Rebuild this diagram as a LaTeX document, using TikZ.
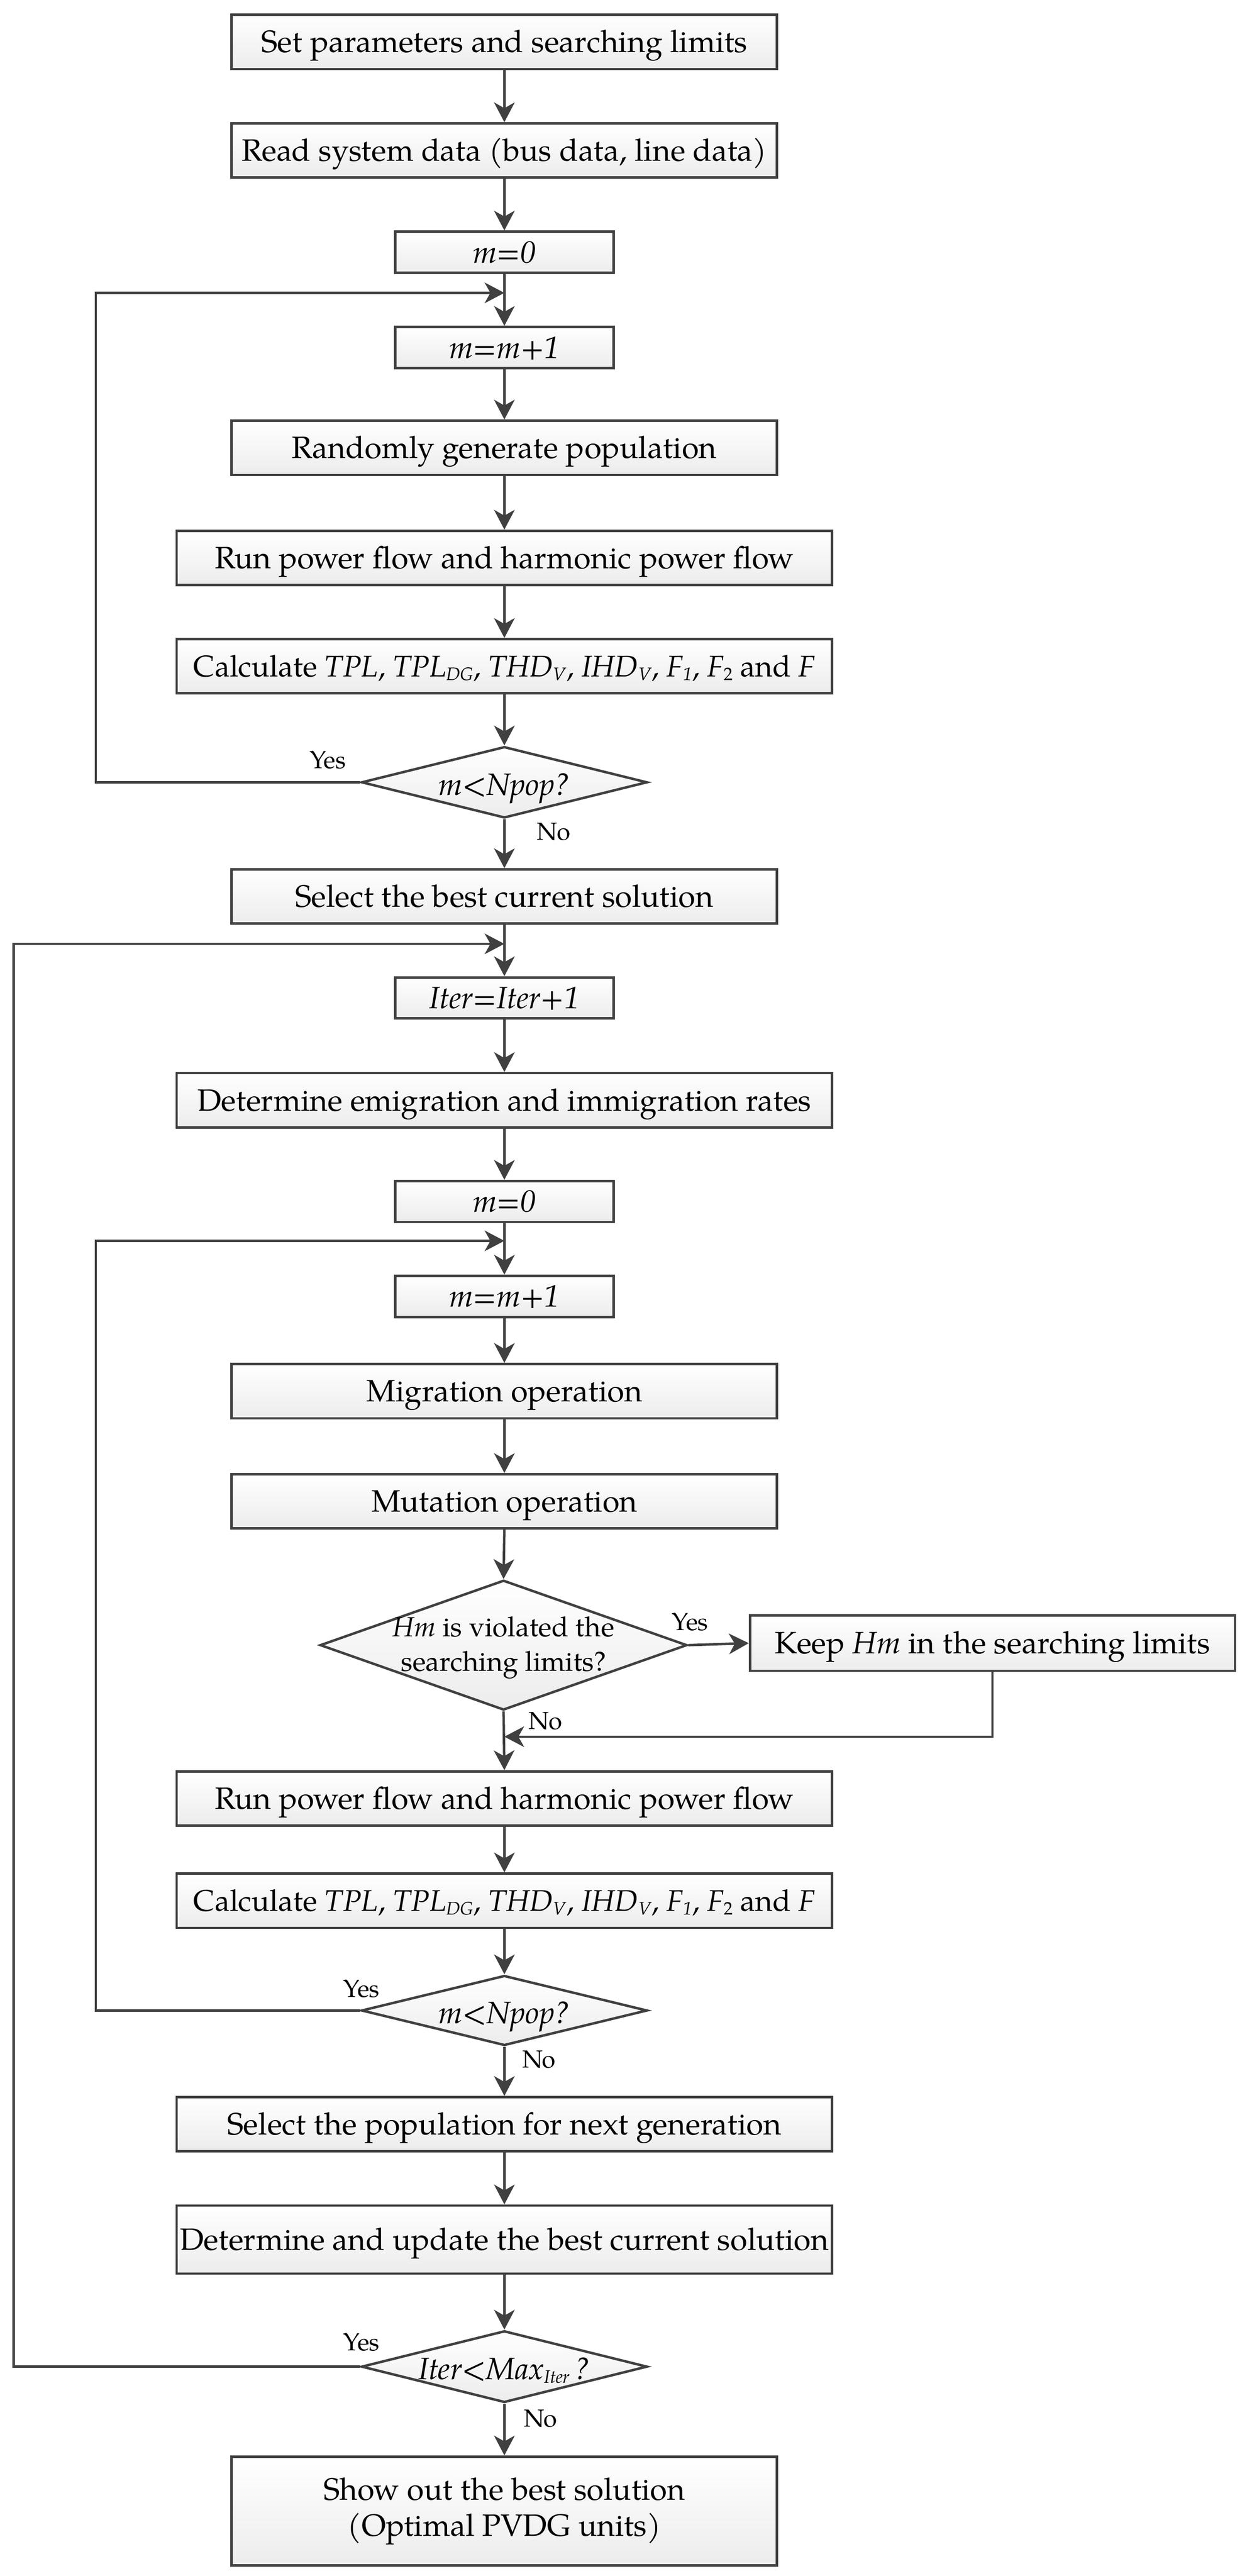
\documentclass[tikz,border=0pt]{standalone}
\usepackage{fontspec}
\setmainfont{TeX Gyre Pagella}
\usetikzlibrary{shapes.geometric,arrows.meta}
\definecolor{ln}{RGB}{64,64,64}
\definecolor{fillb}{RGB}{236,236,236}
\newcommand\mainfs{\fontsize{18.8}{22}\selectfont}
\newcommand\lblfs{\fontsize{15}{18}\selectfont}
\newcommand\mysub[1]{\raisebox{-2.2pt}{\fontsize{11}{12}\selectfont #1}}
\newcommand\calctext{{\fontsize{18.2}{22}\selectfont Calculate \textit{TPL}, \textit{TPL}\mysub{\textit{DG}}, \textit{THD}\mysub{\textit{V}}, \textit{IHD}\mysub{\textit{V}}, \textit{F}\mysub{\textit{1}}, \textit{F}\mysub{2} and \textit{F}}}
\tikzset{
  box/.style={draw=ln, line width=1.5pt, top color=white, bottom color=fillb,
    inner sep=0pt, align=center, font=\mainfs, text=black},
  one/.style={text height=12.8pt, text depth=0pt},
  wa/.style={box, one, minimum width=332pt, minimum height=33pt},
  wb/.style={box, one, minimum width=399pt, minimum height=33pt},
  ws/.style={box, one, minimum width=133pt, minimum height=25pt},
  dia/.style={diamond, draw=ln, line width=1.5pt, top color=white, bottom color=fillb, inner sep=0pt},
  dtext/.style={font=\mainfs, align=center, inner sep=0pt, text=black},
  arr/.style={draw=ln, line width=1.5pt, -{Stealth[length=12pt,width=12.5pt,inset=3.5pt]}},
  lin/.style={draw=ln, line width=1.5pt},
  lbl/.style={font=\lblfs, inner sep=0pt, text=black},
}
\begin{document}
\begin{tikzpicture}[x=1pt,y=-1pt]
\useasboundingbox (0,0) rectangle (762,1567.4);

% first part
\node[wa] (b1) at (307,25.5) {Set parameters and searching limits};
\node[wa] (b2) at (307,91.6) {Read system data (bus data, line data)};
\node[ws] (b3) at (307,153.5) {\textit{m=0}};
\node[ws] (b4) at (307,211.5) {\textit{m=m+1}};
\node[wa] (b5) at (307,272.5) {Randomly generate population};
\node[wb] (b6) at (307,339.5) {Run power flow and harmonic power flow};
\node[wb] (b7) at (307,405.4) {\calctext};
\node[dia, minimum width=174pt, minimum height=43.4pt] (d1) at (307,476) {};
\node[dtext, one] (d1t) at (307,477.5) {\textit{m<Npop?}};
\node[wa] (b8) at (307,545.5) {Select the best current solution};
\node[ws] (b9) at (307,607.2) {\textit{Iter=Iter+1}};
\node[wb] (b10) at (307,669.5) {Determine emigration and immigration rates};
\node[ws] (b11) at (307,731.1) {\textit{m=0}};
\node[ws] (b12) at (307,788.8) {\textit{m=m+1}};
\node[wa] (b13) at (307,846.5) {Migration operation};
\node[wa] (b14) at (307,913.5) {Mutation operation};
\node[dia, minimum width=223.4pt, minimum height=79pt] (d2) at (306.5,1001) {};
\node[dtext, font=\fontsize{16.8}{21}\selectfont] (d2t) at (306.5,1002.5) {\textit{Hm} is violated the\\searching limits?};
\node[box, one, minimum width=295.2pt, minimum height=33.6pt] (keep) at (604.1,999.8) {Keep \textit{Hm} in the searching limits};
\node[wb] (b15) at (307,1094.3) {Run power flow and harmonic power flow};
\node[wb] (b16) at (307,1156.5) {\calctext};
\node[dia, minimum width=174pt, minimum height=42.6pt] (d3) at (307,1223.3) {};
\node[dtext, one] (d3t) at (307,1224.8) {\textit{m<Npop?}};
\node[wb] (b17) at (307,1292.5) {Select the population for next generation};
\node[box, one, minimum width=399pt, minimum height=41.4pt] (b18) at (307,1362.7) {Determine and update the best current solution};
\node[dia, minimum width=174pt, minimum height=43.6pt] (d4) at (307,1440) {};
\node[dtext, one] (d4t) at (307,1441.5) {\textit{Iter<Max}\mysub{\textit{Iter}}\,\textit{?}};
\node[box, minimum width=332pt, minimum height=66.3pt] (b19) at (307,1527.9) {Show out the best solution\\(Optimal PVDG units)};

% loop coordinates
\coordinate (l1) at (307,178.2);
\coordinate (c1) at (58.3,178.2);
\coordinate (l2) at (307,574.3);
\coordinate (c2) at (8.3,574.3);
\coordinate (l3) at (307,755);
\coordinate (c3) at (58.3,755);
\coordinate (r1) at (307,1056.7);

% straight connectors
\draw[arr] (b1) -- (b2);
\draw[arr] (b2) -- (b3);
\draw[arr] (b3) -- (b4);
\draw[arr] (b4) -- (b5);
\draw[arr] (b5) -- (b6);
\draw[arr] (b6) -- (b7);
\draw[arr] (b7.south) -- (d1.north);
\draw[arr] (d1.south) -- (b8.north);
\draw[arr] (b8) -- (b9);
\draw[arr] (b9) -- (b10);
\draw[arr] (b10) -- (b11);
\draw[arr] (b11) -- (b12);
\draw[arr] (b12) -- (b13);
\draw[arr] (b13) -- (b14);
\draw[arr] (b14.south) -- (d2.north);
\draw[arr] (d2.east) -- (keep.west);
\draw[arr] (d2.south) -- (b15.north);
\draw[arr] (keep.south) |- (r1);
\draw[arr] (b15) -- (b16);
\draw[arr] (b16.south) -- (d3.north);
\draw[arr] (d3.south) -- (b17.north);
\draw[arr] (b17) -- (b18);
\draw[arr] (b18.south) -- (d4.north);
\draw[arr] (d4.south) -- (b19.north);

% loops
\draw[arr] (d1.west) -| (c1) -- (l1);
\draw[arr] (d4.west) -| (c2) -- (l2);
\draw[arr] (d3.west) -| (c3) -- (l3);

% labels
\node[lbl] (y1) at (199.5,462.5) {Yes};
\node[lbl] (n1) at (337,506) {No};
\node[lbl] (y2) at (420,987) {Yes};
\node[lbl] (n2) at (332,1047) {No};
\node[lbl] (y3) at (220,1210) {Yes};
\node[lbl] (n3) at (328,1253) {No};
\node[lbl] (y4) at (220,1425) {Yes};
\node[lbl] (n4) at (329,1471.5) {No};
\end{tikzpicture}
\end{document}
